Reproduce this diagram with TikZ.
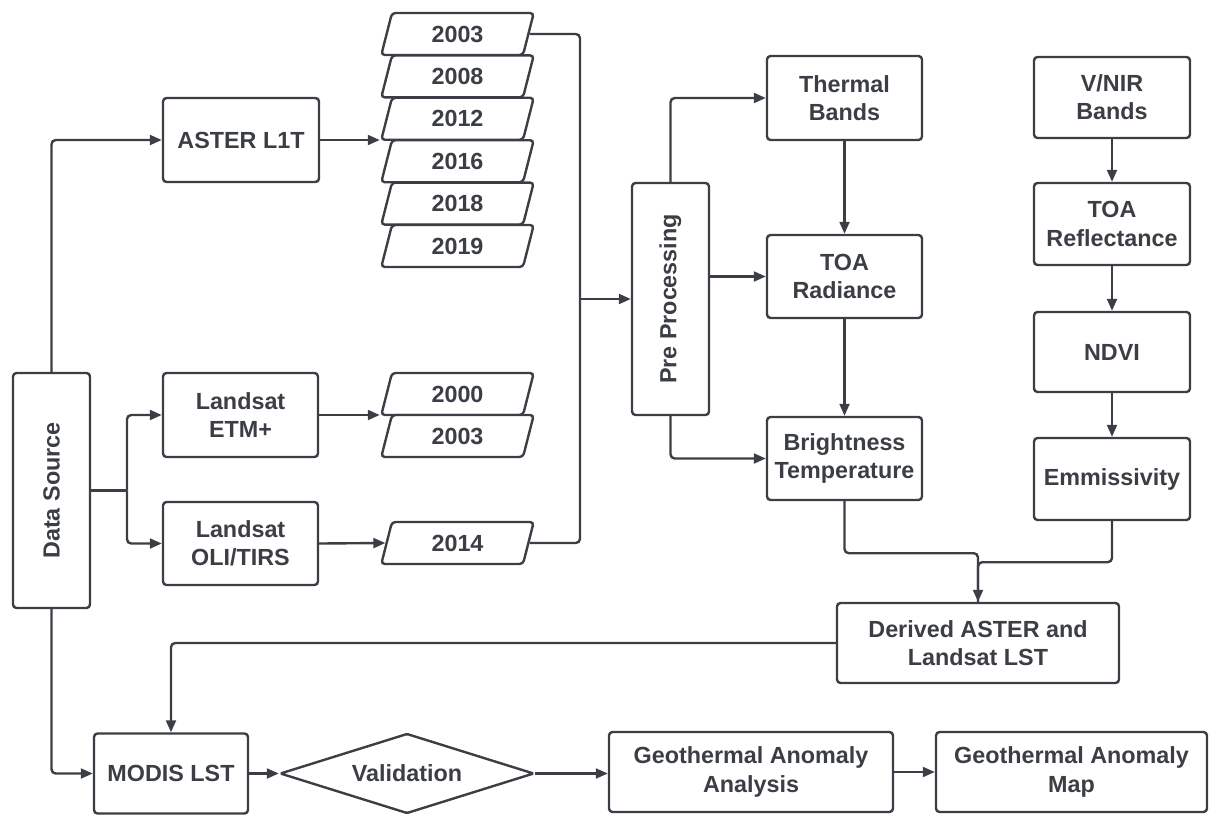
\documentclass[tikz,border=0pt]{standalone}
\usepackage{fontspec}
\setmainfont{Liberation Sans}
\usepackage{graphicx}
\usepackage{xcolor}
\usepackage{tikz}
\definecolor{lcdark}{HTML}{3B3E44}
\usetikzlibrary{shapes.geometric, arrows.meta, positioning, calc}
\def\pxu{0.025cm}

\begin{document}
\begin{tikzpicture}[x=0.025cm, y=-0.025cm,
  wh/.style 2 args={minimum width=#1*\pxu, minimum height=#2*\pxu},
  box/.style={draw=lcdark, line width=1.7pt, rounded corners=2.5pt, fill=white, align=center,
    text=lcdark, font=\fontsize{16.6}{20}\selectfont\bfseries, inner sep=1pt},
  yearbox/.style={box, trapezium, trapezium left angle=77, trapezium right angle=103,
    trapezium stretches=true, wh={153}{42}},
  decision/.style={box, diamond, aspect=3.2, inner sep=0pt, rounded corners=1pt, wh={254}{80}},
  line/.style={draw=lcdark, line width=1.7pt, rounded corners=3pt},
  arrow/.style={line, -{Triangle[length=8.5pt,width=7pt]}}]

\useasboundingbox (0,0) rectangle (1214,815);

% Data sources
\node[box, wh={77}{235}] (src) at (51.5,490.5) {\rotatebox{90}{Data Source}};
\node[box, wh={156}{84}] (aster) at (241,140) {ASTER L1T};
\node[box, wh={155}{84}] (etm) at (240.5,415) {Landsat\\ETM+};
\node[box, wh={155}{83}] (oli) at (240.5,543.5) {Landsat\\OLI/TIRS};
\coordinate (fork) at (127,490.5);

% Years
\foreach \yr [count=\i from 0] in {2003,2008,2012,2016,2018,2019}
  \node[yearbox] (a\yr) at (457.5,{34+42.4*\i}) {\yr};
\node[yearbox] (e2000) at (457.5,394) {2000};
\node[yearbox] (e2003) at (457.5,436) {2003};
\node[yearbox] (o2014) at (457.5,543) {2014};
\coordinate (merge) at (580,299);

% Thermal chain
\node[box, wh={77}{232}] (pre) at (670.5,299) {\rotatebox{90}{Pre Processing}};
\node[box, wh={155}{84}] (thermal) at (844.5,98) {Thermal\\Bands};
\node[box, wh={155}{83}] (toarad) at (844.5,276.5) {TOA\\Radiance};
\node[box, wh={155}{83}] (bright) at (844.5,458.5) {Brightness\\Temperature};

% Emissivity chain
\node[box, wh={156}{81}] (vnir) at (1112,97.5) {V/NIR\\Bands};
\node[box, wh={156}{82}] (toaref) at (1112,224) {TOA\\Reflectance};
\node[box, wh={156}{80}] (ndvi) at (1112,352) {NDVI};
\node[box, wh={156}{82}] (emis) at (1112,479) {Emmissivity};

% Output row
\node[box, wh={282}{80}] (derived) at (978,643) {Derived ASTER and\\Landsat LST};
\node[box, wh={154}{80}] (modis) at (171,773.5) {MODIS LST};
\node[decision] (valid) at (407,773.5) {Validation};
\node[box, wh={284}{80}] (anal) at (751,772) {Geothermal Anomaly\\Analysis};
\node[box, wh={271}{80}] (map) at (1071.5,772) {Geothermal Anomaly\\Map};

% Connectors
\draw[arrow] (src.north) |- (aster.west);
\draw[line] (src.east) -- (fork);
\draw[arrow] (fork) |- (etm.west);
\draw[arrow] (fork) |- (oli.west);
\draw[arrow] (src.south) |- (modis.west);
\draw[arrow] (aster.east) -- (aster.east -| a2012.bottom left corner);
\draw[arrow] (etm.east) -- (etm.east -| e2000.bottom left corner);
\draw[arrow] (oli.east) -- (o2014.west);
\draw[line] (a2003.east) -| (merge);
\draw[line] (o2014.east) -| (merge);
\draw[arrow] (merge) -- (pre.west);
\draw[arrow] (pre.north) |- (thermal.west);
\draw[arrow] (pre.east |- toarad.west) -- (toarad.west);
\draw[arrow] (pre.south) |- (bright.west);
\draw[arrow] (thermal) -- (toarad);
\draw[arrow] (toarad) -- (bright);
\draw[arrow] (vnir) -- (toaref);
\draw[arrow] (toaref) -- (ndvi);
\draw[arrow] (ndvi) -- (emis);
\draw[line] (emis.south) -- ++(0,41) -| (derived.north);
\draw[arrow] (bright.south) -- ++(0,52) -| (derived.north);
\draw[arrow] (derived.west) -| (modis.north);
\draw[arrow] (modis) -- (valid);
\draw[arrow] (valid) -- (anal.west |- valid);
\draw[arrow] (anal) -- (map);
\end{tikzpicture}
\end{document}
